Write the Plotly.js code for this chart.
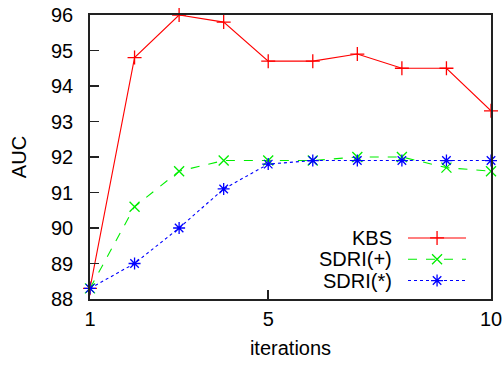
<!DOCTYPE html>
<html><head><meta charset="utf-8">
<script src="https://cdn.plot.ly/plotly-3.0.1.min.js"></script>
<style>html,body{margin:0;padding:0;background:#fff}#c{width:504px;height:367px}</style>
</head><body><div id="c"></div>
<script>
const iterations = [1,2,3,4,5,6,7,8,9,10];
const kbs   = [88.3, 94.8, 96.0, 95.8, 94.7, 94.7, 94.9, 94.5, 94.5, 93.3];
const sdriPlus = [88.3, 90.6, 91.6, 91.9, 91.9, 91.9, 92.0, 92.0, 91.7, 91.6];
const sdriStar = [88.3, 89.0, 90.0, 91.1, 91.8, 91.9, 91.9, 91.9, 91.9, 91.9];
const seriesNames = ["KBS", "SDRI(+)", "SDRI(*)"];
const xTicks = [1, 5, 10];

const FONT = "Liberation Sans, Arial, sans-serif";
const styles = [
  {color:"#ff0000", dash:"solid", symbol:"cross-thin-open"},
  {color:"#00ee00", dash:"dash", symbol:"x-thin-open"},
  {color:"#0000ff", dash:"dot", symbol:"asterisk-open"}
];
const ys = [kbs, sdriPlus, sdriStar];
const traces = ys.map((y,i)=>({
  x: iterations, y: y, type:"scatter", mode:"lines+markers", name: seriesNames[i],
  line:{color:styles[i].color, width:1.1, dash:styles[i].dash},
  marker:{symbol:styles[i].symbol, size:10, color:styles[i].color, line:{color:styles[i].color, width:1.3}},
  showlegend:false, cliponaxis:false
}));
// custom gnuplot-style legend (text left, sample right) on its own small axis
const legY = [0.215, 0.14, 0.065];
const annotations = [];
legY.forEach((ly,i)=>{
  traces.push({x:[0,0.5,1], y:[ly,ly,ly], xaxis:"x2", yaxis:"y2", type:"scatter", mode:"lines",
    line:{color:styles[i].color, width:1.1, dash:styles[i].dash}, showlegend:false, hoverinfo:"skip"});
  traces.push({x:[0.5], y:[ly], xaxis:"x2", yaxis:"y2", type:"scatter", mode:"markers",
    marker:{symbol:styles[i].symbol, size:10, color:styles[i].color, line:{color:styles[i].color, width:1.3}},
    showlegend:false, hoverinfo:"skip"});
  annotations.push({xref:"paper", yref:"paper", x:0.758, y:ly, xanchor:"right", yanchor:"middle",
    text: seriesNames[i], showarrow:false, font:{family:FONT, size:20, color:"#000"}});
});
const layout = {
  width:504, height:367,
  margin:{l:90, r:13, t:15, b:68},
  paper_bgcolor:"#fff", plot_bgcolor:"rgba(0,0,0,0)",
  font:{family:FONT, size:20, color:"#000"},
  xaxis:{range:[1,10], tickvals:xTicks, ticktext:xTicks.map(String), ticks:"inside", ticklen:9, tickwidth:1.5,
    tickcolor:"#222", showline:true, mirror:true, linecolor:"#222", linewidth:1.8, showgrid:false, zeroline:false,
    ticklabelstandoff:1,
    title:{text:"iterations", font:{family:FONT, size:20}, standoff:12}},
  yaxis:{range:[88,96], dtick:1, ticks:"inside", ticklen:9, tickwidth:1.5, tickcolor:"#222",
    showline:true, mirror:true, linecolor:"#222", linewidth:1.8, showgrid:false, zeroline:false,
    ticklabelstandoff:11,
    title:{text:"AUC", font:{family:FONT, size:20}, standoff:19}},
  xaxis2:{range:[0,1], domain:[0.793,0.938], anchor:"y2", visible:false, fixedrange:true},
  yaxis2:{range:[0,1], domain:[0,1], anchor:"x2", visible:false, fixedrange:true},
  annotations: annotations
};
Plotly.newPlot("c", traces, layout, {staticPlot:true, displayModeBar:false});
</script></body></html>
